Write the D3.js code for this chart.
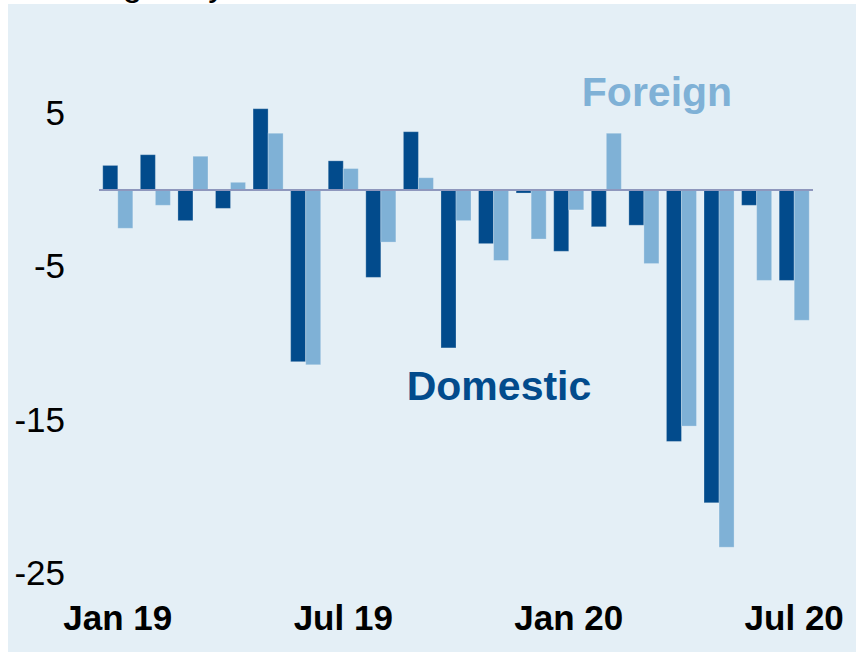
<!DOCTYPE html>
<html>
<head>
<meta charset="utf-8">
<script src="https://cdn.jsdelivr.net/npm/d3@7"></script>
<style>
  body { margin: 0; background: #ffffff; }
  svg { display: block; font-family: "Liberation Sans", Arial, sans-serif; }
  .axis .domain { display: none; }
</style>
</head>
<body>
<div id="mychart"></div>
<script>
var months = ["Jan 19","Feb 19","Mar 19","Apr 19","May 19","Jun 19","Jul 19","Aug 19","Sep 19","Oct 19",
    "Nov 19","Dec 19","Jan 20","Feb 20","Mar 20","Apr 20","May 20","Jun 20","Jul 20"];
var domestic = [1.6, 2.3, -2.0, -1.2, 5.3, -11.2, 1.9, -5.7, 3.8, -10.3, -3.5, -0.2, -4.0, -2.4, -2.3, -16.4, -20.4, -1.0, -5.9];
var foreign = [-2.5, -1.0, 2.2, 0.5, 3.7, -11.4, 1.4, -3.4, 0.8, -2.0, -4.6, -3.2, -1.3, 3.7, -4.8, -15.4, -23.3, -5.9, -8.5];
var yticks = [5, -5, -15, -25];
var xlabels = {"Jan 19": "Jan 19", "Jul 19": "Jul 19", "Jan 20": "Jan 20", "Jul 20": "Jul 20"};

var darkblue = "#024b8c",
    lightblue = "#7fb1d6";

var svg = d3.select("#mychart").append("svg")
    .attr("width", 856)
    .attr("height", 653);

// panel background
svg.append("rect")
    .attr("x", 8)
    .attr("y", 4)
    .attr("width", 848)
    .attr("height", 648)
    .attr("fill", "#e4eff6");

// title, mostly cut off above the frame (as in the original)
svg.append("text")
    .attr("x", 39)
    .attr("y", -4)
    .attr("font-size", 35)
    .attr("fill", "#000")
    .text("Change in year");

var x = d3.scaleBand()
    .domain(months)
    .range([99, 813])
    .paddingInner(0.2)
    .paddingOuter(0.1);

var y = d3.scaleLinear()
    .domain([-25, 5])
    .range([573.3, 113.3]);

var half = x.bandwidth() / 2;

var month = svg.selectAll(".month")
    .data(months)
    .enter().append("g")
    .attr("class", "month")
    .attr("transform", function(d) { return "translate(" + x(d) + ",0)"; });

month.append("rect")
    .attr("x", 0)
    .attr("width", half)
    .attr("y", function(d, i) { return y(Math.max(0, domestic[i])); })
    .attr("height", function(d, i) { return Math.abs(y(domestic[i]) - y(0)); })
    .attr("fill", darkblue)
    .attr("stroke", "#ffffff")
    .attr("stroke-opacity", 0.25)
    .attr("stroke-width", 1);

month.append("rect")
    .attr("x", half)
    .attr("width", half)
    .attr("y", function(d, i) { return y(Math.max(0, foreign[i])); })
    .attr("height", function(d, i) { return Math.abs(y(foreign[i]) - y(0)); })
    .attr("fill", lightblue)
    .attr("stroke", "#ffffff")
    .attr("stroke-opacity", 0.25)
    .attr("stroke-width", 1);

// zero line
svg.append("line")
    .attr("x1", 99)
    .attr("x2", 813)
    .attr("y1", y(0))
    .attr("y2", y(0))
    .attr("stroke", "#8e97bd")
    .attr("stroke-width", 2);

svg.append("g")
    .attr("class", "axis axis--y")
    .attr("transform", "translate(65,0)")
    .call(d3.axisLeft(y).tickValues(yticks)
        .tickFormat(function(d) { return String(d); })
        .tickSize(0).tickPadding(0))
    .selectAll("text")
    .attr("font-size", 35)
    .attr("font-family", "Liberation Sans, Arial, sans-serif")
    .attr("fill", "#000");

svg.append("g")
    .attr("class", "axis axis--x")
    .attr("transform", "translate(0,605)")
    .call(d3.axisBottom(x)
        .tickValues(months.filter(function(d) { return xlabels[d]; }))
        .tickFormat(function(d) { return xlabels[d]; })
        .tickSize(0).tickPadding(0))
    .selectAll("text")
    .attr("font-size", 35)
    .attr("font-weight", "bold")
    .attr("font-family", "Liberation Sans, Arial, sans-serif")
    .attr("fill", "#000");

// series labels
svg.append("text")
    .attr("x", 657)
    .attr("y", 106)
    .attr("text-anchor", "middle")
    .attr("font-size", 41)
    .attr("font-weight", "bold")
    .attr("fill", lightblue)
    .text("Foreign");

svg.append("text")
    .attr("x", 499)
    .attr("y", 400)
    .attr("text-anchor", "middle")
    .attr("font-size", 41)
    .attr("font-weight", "bold")
    .attr("fill", darkblue)
    .text("Domestic");
</script>
</body>
</html>
